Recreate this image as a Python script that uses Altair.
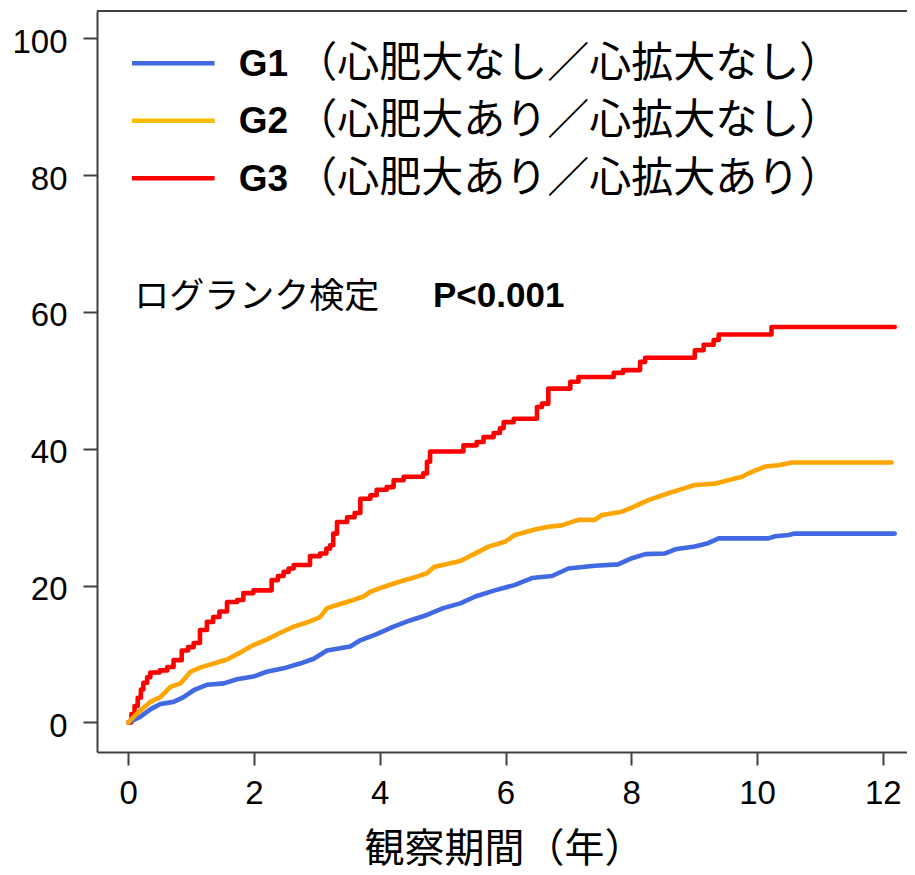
import altair as alt
import pandas as pd

# ---------------- data ----------------
groups = ["G1", "G2", "G3"]
group_notes = ["（心肥大なし／心拡大なし）", "（心肥大あり／心拡大なし）", "（心肥大あり／心拡大あり）"]
curve_colors = ["#4169E1", "#FFA500", "#FF0000"]
legend_colors = ["#4169E1", "#FFBB00", "#FF0000"]

g1_t = [0, 0.19, 0.35, 0.51, 0.72, 0.88, 1.04, 1.25, 1.52, 1.73, 1.99, 2.20, 2.47, 2.73, 2.95,
        3.16, 3.53, 3.69, 3.95, 4.22, 4.48, 4.75, 5.01, 5.28, 5.52, 5.83, 6.15, 6.42, 6.74,
        7.00, 7.42, 7.79, 8.01, 8.22, 8.54, 8.70, 9.01, 9.22, 9.39, 10.18, 10.29, 10.50, 10.60, 12.19]
g1_v = [0, 0.8, 1.9, 2.7, 3.0, 3.7, 4.7, 5.5, 5.7, 6.3, 6.7, 7.4, 7.9, 8.6, 9.3,
        10.5, 11.1, 12.0, 12.9, 14.0, 14.9, 15.7, 16.7, 17.4, 18.4, 19.3, 20.1, 21.1, 21.4,
        22.5, 22.9, 23.1, 24.0, 24.6, 24.7, 25.3, 25.7, 26.2, 26.9, 26.9, 27.2, 27.4, 27.6, 27.6]

g2_t = [0, 0.14, 0.35, 0.51, 0.67, 0.83, 0.99, 1.14, 1.36, 1.57, 1.78, 1.99, 2.20, 2.42, 2.63,
        2.84, 3.05, 3.16, 3.37, 3.58, 3.74, 3.85, 4.06, 4.32, 4.59, 4.75, 4.86, 5.28, 5.52,
        5.73, 5.99, 6.15, 6.47, 6.68, 6.89, 7.16, 7.42, 7.53, 7.85, 8.01, 8.27, 8.59, 8.80,
        9.01, 9.33, 9.54, 9.76, 9.91, 10.13, 10.34, 10.50, 10.55, 12.14]
g2_v = [0, 1.3, 3.0, 3.7, 5.2, 5.7, 7.4, 8.0, 8.6, 9.2, 10.2, 11.3, 12.1, 13.1, 14.0,
        14.6, 15.4, 16.7, 17.3, 17.9, 18.4, 19.1, 19.8, 20.6, 21.3, 21.8, 22.7, 23.6, 24.7,
        25.7, 26.4, 27.4, 28.2, 28.6, 28.8, 29.6, 29.6, 30.3, 30.8, 31.4, 32.5, 33.5, 34.1,
        34.7, 34.9, 35.4, 35.9, 36.6, 37.4, 37.6, 37.9, 38.0, 38.0]

g3_t = [0, 0.05, 0.10, 0.15, 0.20, 0.24, 0.30, 0.35, 0.50, 0.62, 0.72, 0.85, 0.95, 1.04, 1.14,
        1.25, 1.35, 1.45, 1.57, 1.73, 1.83, 1.99, 2.28, 2.38, 2.47, 2.55, 2.63, 2.89, 3.05,
        3.15, 3.21, 3.26, 3.32, 3.48, 3.60, 3.69, 3.85, 3.95, 4.11, 4.22, 4.38, 4.69, 4.75,
        4.80, 5.33, 5.54, 5.65, 5.81, 5.91, 5.97, 6.13, 6.50, 6.58, 6.68, 7.03, 7.16, 7.72,
        7.87, 8.14, 8.22, 9.01, 9.15, 9.31, 9.39, 10.23, 12.19]
g3_v = [0, 1.2, 2.4, 3.6, 4.8, 5.8, 6.6, 7.3, 7.6, 8.1, 9.1, 10.5, 11.0, 11.6, 13.5,
        14.7, 15.4, 16.2, 17.6, 17.9, 18.9, 19.3, 20.8, 21.4, 22.0, 22.5, 23.0, 24.3, 24.7,
        25.4, 25.9, 27.6, 29.3, 30.0, 30.6, 32.7, 33.2, 34.0, 34.4, 35.4, 35.9, 36.4, 38.1,
        39.6, 40.5, 41.0, 41.7, 42.3, 43.0, 43.9, 44.4, 46.1, 46.6, 48.8, 49.8, 50.5, 51.1,
        51.5, 52.7, 53.3, 54.4, 55.2, 55.9, 56.7, 57.8, 57.8]

x_ticks = [0, 2, 4, 6, 8, 10, 12]
y_ticks = [0, 20, 40, 60, 80, 100]
x_title = "観察期間（年）"
annot_label = "ログランク検定"
annot_p = "P<0.001"

# ---------------- layout ----------------
W, H = 810, 741
LATIN = "Liberation Sans"
CJK = "Noto Sans CJK JP"
FRAME = "#404040"

xscale = alt.Scale(domain=[-0.4976, 12.385], nice=False, zero=False)
yscale = alt.Scale(domain=[-4.33, 104.0], nice=False, zero=False)

xaxis = alt.Axis(values=x_ticks, format="d", grid=False, tickSize=13, tickWidth=2,
                 tickColor=FRAME, domainColor=FRAME, domainWidth=2,
                 labelFont=LATIN, labelFontSize=33, labelColor="#000", labelPadding=12,
                 labelFlush=False, labelOverlap=False,
                 titleFont=CJK, titleFontSize=40, titleFontWeight="normal", titleColor="#000",
                 titleX=407, titleY=109, titleAlign="center", titleBaseline="alphabetic")
yaxis = alt.Axis(values=y_ticks, format="d", grid=False, tickSize=14, tickWidth=2,
                 tickColor=FRAME, domainColor=FRAME, domainWidth=2,
                 labelFont=LATIN, labelFontSize=33, labelColor="#000", labelPadding=16,
                 labelOffset=4, labelOverlap=False, title=None)

series = [(g1_t, g1_v, "linear"), (g2_t, g2_v, "linear"), (g3_t, g3_v, "step-after")]
layers = []
for i in [2, 0, 1]:
    t, v, interp = series[i]
    df = pd.DataFrame({"t": t, "v": v, "group": groups[i]})
    layers.append(
        alt.Chart(df).mark_line(interpolate=interp, strokeWidth=4.6, strokeCap="round",
                                strokeJoin="round", color=curve_colors[i]).encode(
            x=alt.X("t:Q", scale=xscale, axis=xaxis, title=x_title),
            y=alt.Y("v:Q", scale=yscale, axis=yaxis, title=None),
        )
    )

# top frame line
layers.append(
    alt.Chart(pd.DataFrame({"k": [0]})).mark_rule(color=FRAME, strokeWidth=2).encode(
        x=alt.value(0), x2=alt.value(W), y=alt.value(0))
)

# legend
for i in range(3):
    yl = 52.3 + i * 57.5
    one = pd.DataFrame({"g": [groups[i]], "note": [group_notes[i]]})
    layers.append(alt.Chart(one).mark_rule(color=legend_colors[i], strokeWidth=4.5).encode(
        x=alt.value(35), x2=alt.value(117.6), y=alt.value(yl)))
    layers.append(alt.Chart(one).mark_text(align="left", baseline="alphabetic", font=LATIN,
                                           fontSize=37, fontWeight="bold", color="#000").encode(
        x=alt.value(141.8), y=alt.value(yl + 12.6), text="g:N"))
    layers.append(alt.Chart(one).mark_text(align="left", baseline="alphabetic", font=CJK,
                                           fontSize=42, fontWeight="normal", color="#000").encode(
        x=alt.value(198.3), y=alt.value(yl + 13.5), text="note:N"))

# log-rank annotation
ann = pd.DataFrame({"a": [annot_label], "p": [annot_p]})
layers.append(alt.Chart(ann).mark_text(align="left", baseline="alphabetic", font=CJK,
                                       fontSize=35, fontWeight="normal", color="#000").encode(
    x=alt.value(37.3), y=alt.value(297), text="a:N"))
layers.append(alt.Chart(ann).mark_text(align="left", baseline="alphabetic", font=LATIN,
                                       fontSize=35, fontWeight="bold", color="#000").encode(
    x=alt.value(336), y=alt.value(295.5), text="p:N"))

chart = alt.layer(*layers).properties(
    width=W, height=H, autosize="none",
    padding={"left": 89, "top": 3, "right": 0, "bottom": 123},
    background="white",
).configure_view(stroke=None)

chart.save("out.html", embed_options={"renderer": "svg", "actions": False})
